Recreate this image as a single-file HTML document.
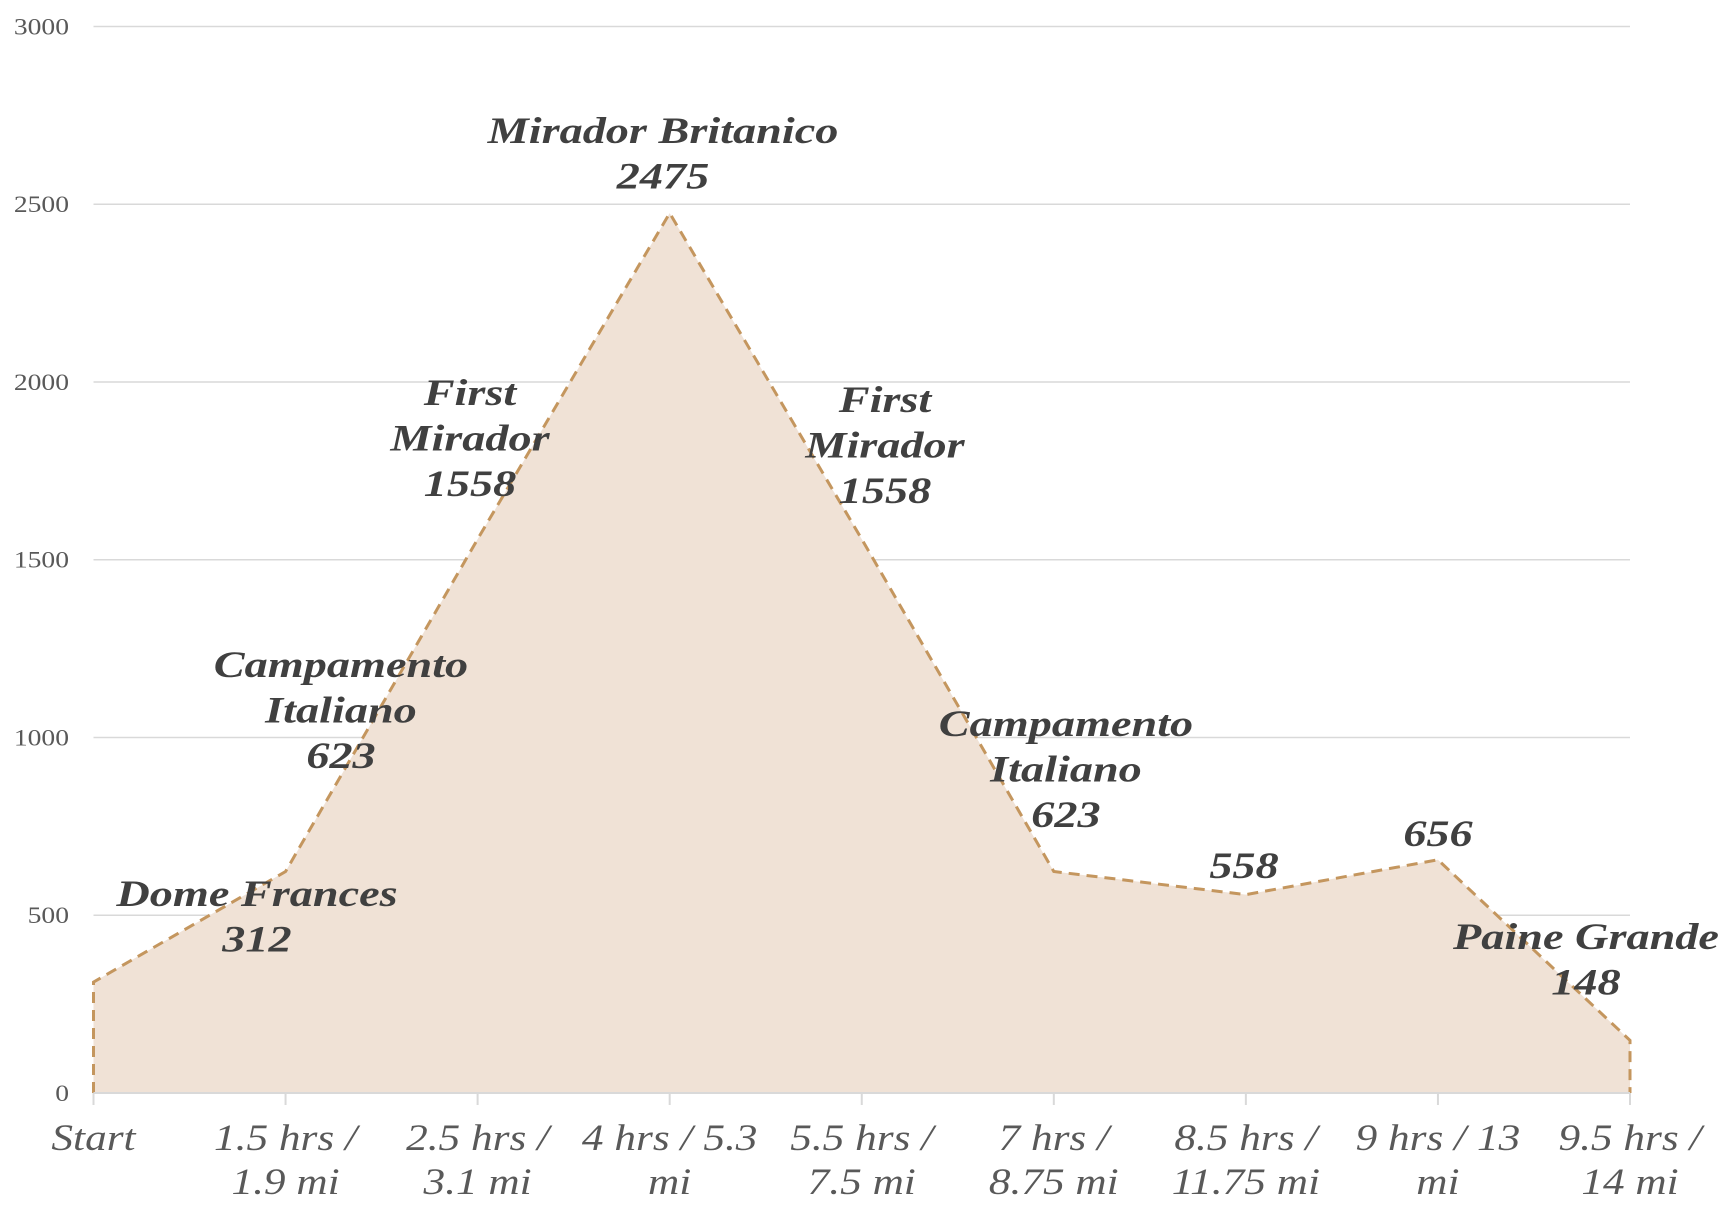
<!DOCTYPE html>
<html><head><meta charset="utf-8"><style>
html,body{margin:0;padding:0;background:#fff;}
svg{display:block;}
</style></head><body>
<svg id="chart" width="1725" height="1218" viewBox="0 0 1725 1218" xmlns="http://www.w3.org/2000/svg"></svg>
<script>
const categories = [["Start"],["1.5 hrs /","1.9 mi"],["2.5 hrs /","3.1 mi"],["4 hrs / 5.3","mi"],["5.5 hrs /","7.5 mi"],["7 hrs /","8.75 mi"],["8.5 hrs /","11.75 mi"],["9 hrs / 13","mi"],["9.5 hrs /","14 mi"]];
const elevations = [312, 623, 1558, 2475, 1558, 623, 558, 656, 148];
const pointNames = [["Dome Frances"],["Campamento","Italiano"],["First","Mirador"],["Mirador Britanico"],["First","Mirador"],["Campamento","Italiano"],[],[],["Paine Grande"]];
const yTicks = [0, 500, 1000, 1500, 2000, 2500, 3000];
// label anchor (center x, first line center y) in px - layout only
const labelLayout = [[257,894],[341,665],[470,393],[663,131],[885,400],[1066,724],[1244,866],[1438,834],[1586,937]];

const NS="http://www.w3.org/2000/svg";
const svg=document.getElementById('chart');
const X0=93.5, X1=1630, Y0=1093, Y1=26.5, YMAX=3000;
const xs=i=>X0+(X1-X0)*i/(categories.length-1);
const ys=v=>Y0-(Y0-Y1)*v/YMAX;
function mk(tag,attrs,parent){const e=document.createElementNS(NS,tag);for(const k in attrs)e.setAttribute(k,attrs[k]);(parent||svg).appendChild(e);return e;}
function widen(cx,s){return 'translate('+cx+',0) scale('+s+',1) translate('+(-cx)+',0)';}

const grid=mk('g',{});


yTicks.forEach(t=>{
  if(t>0){const l=mk('line',{x1:X0,x2:X1,y1:ys(t),y2:ys(t),stroke:'#d9d9d9','stroke-width':1.5},grid);
  
  }
  const tx=mk('text',{x:69,y:ys(t)+8,'text-anchor':'end','font-family':'Liberation Serif, serif','font-size':23,fill:'#595959',transform:widen(69,1.2)});
  tx.textContent=t;
  
  
});

let d='M'+xs(0)+','+ys(0);
elevations.forEach((v,i)=>{d+=' L'+xs(i)+','+ys(v);});
d+=' L'+xs(elevations.length-1)+','+ys(0);
const area=mk('path',{d:d+' Z',fill:'#f0e2d6',stroke:'none'});


const outline=mk('path',{d:d,fill:'none',stroke:'#c4965e','stroke-width':3,'stroke-dasharray':'11,7'});


const base=mk('line',{x1:X0,x2:X1,y1:Y0,y2:Y0,stroke:'#d9d9d9','stroke-width':2});



categories.forEach((c,i)=>{
  const tk=mk('line',{x1:xs(i),x2:xs(i),y1:Y0,y2:Y0+12,stroke:'#d9d9d9','stroke-width':2});
  
  
  const t=mk('text',{'text-anchor':'middle','font-family':'Liberation Serif, serif','font-style':'italic','font-size':37,fill:'#595959',transform:widen(xs(i),1.17)});
  
  
  c.forEach((line,j)=>{const ts=mk('tspan',{x:xs(i),y:1150+j*44},t);ts.textContent=line;});
});

elevations.forEach((v,i)=>{
  const lines=pointNames[i].concat([String(v)]);
  const [cx,cy]=labelLayout[i];
  const t=mk('text',{'text-anchor':'middle','font-family':'Liberation Serif, serif','font-style':'italic','font-weight':'bold','font-size':37,fill:'#404040',transform:widen(cx,1.25)});
  
  
  lines.forEach((line,j)=>{const ts=mk('tspan',{x:cx,y:cy+12+j*45.5},t);ts.textContent=line;});
});
</script>
</body></html>
